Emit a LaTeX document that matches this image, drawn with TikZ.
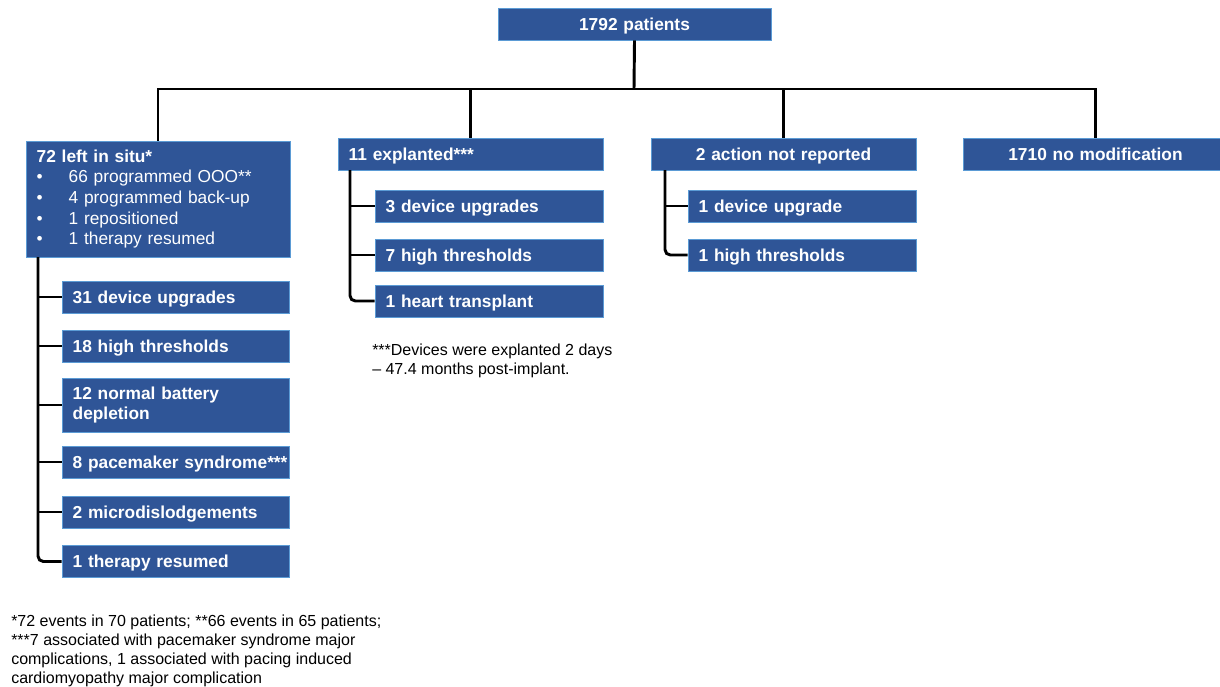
\documentclass[tikz,border=0pt]{standalone}
\usepackage{fontspec}
\setsansfont{Liberation Sans}
\usepackage{tikz}
\usetikzlibrary{positioning}
\definecolor{pmBlue}{RGB}{47, 85, 151}
\definecolor{pmEdge}{RGB}{91, 155, 213}
\newcommand{\situitem}{\mdseries\makebox[24pt][l]{\textbullet}}
\tikzset{
    base/.style={
        font=\sffamily,
        inner sep=0pt
    },
    box/.style={
        base,
        rectangle,
        draw=pmEdge,
        line width=0.6pt,
        fill=pmBlue,
        text=white,
        font=\sffamily\bfseries\fontsize{13}{15.5}\selectfont,
        inner xsep=8pt,
        minimum height=24pt
    },
    wide/.style={
        box,
        text depth=0pt,
        text width=182.75pt
    },
    narrow/.style={
        box,
        text depth=0pt,
        text width=155pt
    },
    link/.style={
        draw=black,
        line width=2.2pt
    },
    note/.style={
        base,
        anchor=north west,
        align=left,
        text=black,
        font=\sffamily\fontsize{12}{14.25}\selectfont
    }
}

\begin{document}
\begin{tikzpicture}[x=0.75pt, y=-0.75pt]
    \useasboundingbox (0,0) rectangle (1220,686);

    % Top box
    \node[box, text depth=0pt, text width=188.75pt, align=center] (top) at (634.5,24) {1792 patients};
    \coordinate (bus) at (634,89);

    % First level
    \node[box, text width=182pt, minimum height=87pt, align=left] (situ) at (158,199) {72 left in situ*\\
        \situitem 66 programmed OOO**\\
        \situitem 4 programmed back-up\\
        \situitem 1 repositioned\\
        \situitem 1 therapy resumed};
    \node[wide, align=left] (expl) at (470.5,154) {11 explanted***};
    \node[wide, align=center] (nrep) at (783.5,154) {2 action not reported};
    \node[wide, align=center] (nomod) at (1095.5,154) {1710 no modification};

    % Tree lines
    \draw[link] (top.south) -- (bus);
    \draw[link] (situ.north) -- (situ.north |- bus) -- (nomod.north |- bus) -- (nomod.north);
    \draw[link] (expl.north) -- (expl.north |- bus);
    \draw[link] (nrep.north) -- (nrep.north |- bus);

    % Left in situ branch
    \node[narrow, text width=154.25pt, align=left] (sa1) at (175.5,297) {31 device upgrades};
    \node[narrow, text width=154.25pt, align=left] (sa2) at (175.5,346) {18 high thresholds};
    \node[box, text width=154.25pt, minimum height=40.5pt, align=left] (sa3) at (175.5,405) {12 normal battery\\depletion};
    \node[narrow, text width=154.25pt, align=left] (sa4) at (175.5,462) {\mbox{8 pacemaker syndrome***}};
    \node[narrow, text width=154.25pt, align=left] (sa5) at (175.5,512) {2 microdislodgements};
    \node[narrow, text width=154.25pt, align=left] (sa6) at (175.5,561.5) {1 therapy resumed};
    \coordinate (spA) at (38,257);
    \draw[link, rounded corners=4pt] (spA) |- (sa6.west);
    \draw[link] (spA |- sa1.west) -- (sa1.west);
    \draw[link] (spA |- sa2.west) -- (sa2.west);
    \draw[link] (spA |- sa3.west) -- (sa3.west);
    \draw[link] (spA |- sa4.west) -- (sa4.west);
    \draw[link] (spA |- sa5.west) -- (sa5.west);

    % Explanted branch
    \node[narrow, align=left] (sb1) at (489,206) {3 device upgrades};
    \node[narrow, align=left] (sb2) at (489,255) {7 high thresholds};
    \node[narrow, align=left] (sb3) at (489,301) {1 heart transplant};
    \coordinate (spB) at (350,170);
    \draw[link, rounded corners=4pt] (spB) |- (sb3.west);
    \draw[link] (spB |- sb1.west) -- (sb1.west);
    \draw[link] (spB |- sb2.west) -- (sb2.west);
    \node[note] (explnote) at (372,344) {***Devices were explanted 2 days\\– 47.4 months post-implant.};

    % Not reported branch
    \node[narrow, align=left] (sc1) at (802,206) {1 device upgrade};
    \node[narrow, align=left] (sc2) at (802,255) {1 high thresholds};
    \coordinate (spC) at (665,170);
    \draw[link, rounded corners=4pt] (spC) |- (sc2.west);
    \draw[link] (spC |- sc1.west) -- (sc1.west);

    % Footnote
    \node[note] (foot) at (11,615) {*72 events in 70 patients; **66 events in 65 patients;\\
        ***7 associated with pacemaker syndrome major\\
        complications, 1 associated with pacing induced\\
        cardiomyopathy major complication};

\end{tikzpicture}
\end{document}
